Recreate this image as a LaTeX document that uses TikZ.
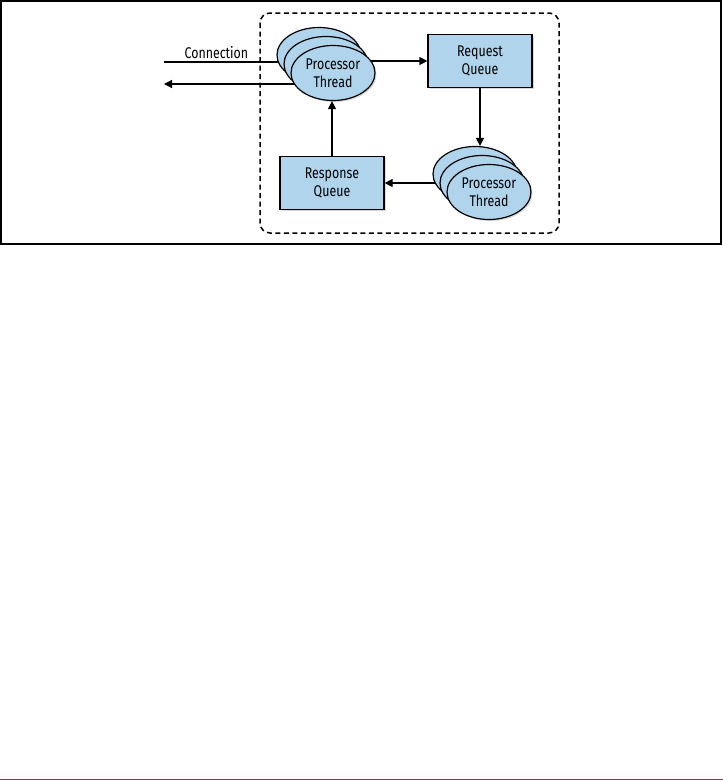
\documentclass[tikz,border=0pt]{standalone}
\usepackage{fontspec}
\setmainfont{Fira Sans}[FakeStretch=0.8]
\usetikzlibrary{shapes.geometric, arrows.meta, backgrounds, shadows}
\definecolor{threadblue}{RGB}{176,212,236}
\definecolor{rulered}{RGB}{178,40,58}
\tikzset{
flow/.style={line width=1.2pt, -{Triangle[length=8pt, width=8pt]}},
wire/.style={line width=1.2pt},
softshadow/.style={drop shadow={shadow xshift=1.5pt, shadow yshift=-1.5pt, opacity=0.3}},
queue/.style={draw, line width=1.2pt, fill=threadblue, minimum width=104pt,
  minimum height=53pt, align=center, softshadow},
thread/.style={ellipse, draw, line width=1.2pt, fill=threadblue, minimum width=84pt,
  minimum height=55pt, inner sep=0pt, align=center, softshadow},
threads/.pic={
  \node[thread] (-c) at (-14,-18) {};
  \node[thread] (-b) at (-7,-9) {};
  \node[thread] (-a) at (0,0) {Processor\\Thread};
  }
}

\begin{document}
\begin{tikzpicture}[x=1pt, y=-1pt, font=\fontsize{15.5}{18}\selectfont]
  \useasboundingbox (0,0) rectangle (723,780);
  \draw[line width=1.5pt] (1,1) rectangle (721,244);
  \draw[rulered, line width=1pt] (0,779) -- (723,779);
  \draw[line width=1.5pt, dash pattern=on 5pt off 3.5pt, rounded corners=10pt]
    (260,13) rectangle (559,233);
  \pic (t1) at (333,73) {threads};
  \pic (t2) at (489,192) {threads};
  \node[queue] (rq) at (480,61) {Request\\Queue};
  \node[queue] (rsp) at (332,183) {Response\\Queue};
  \coordinate (conn-in) at (164,62);
  \coordinate (conn-out) at (164,84);
  \begin{scope}[on background layer]
    \draw[wire] (conn-in) -- (conn-in -| t1-a.center)
      node[above, pos=0.31, inner sep=3pt] (conn-lbl) {Connection};
    \draw[flow] (t1-a.center |- conn-out) -- (conn-out);
    \draw[flow] (t1-a.center |- rq.west) -- (rq.west);
    \draw[flow] (t2-a.center |- rsp.east) -- (rsp.east);
  \end{scope}
  \draw[flow] (rq.south) -- (rq.south |- t2-c.north);
  \draw[flow] (rsp.north) -- (rsp.north |- t1-a.south);
\end{tikzpicture}
\end{document}
